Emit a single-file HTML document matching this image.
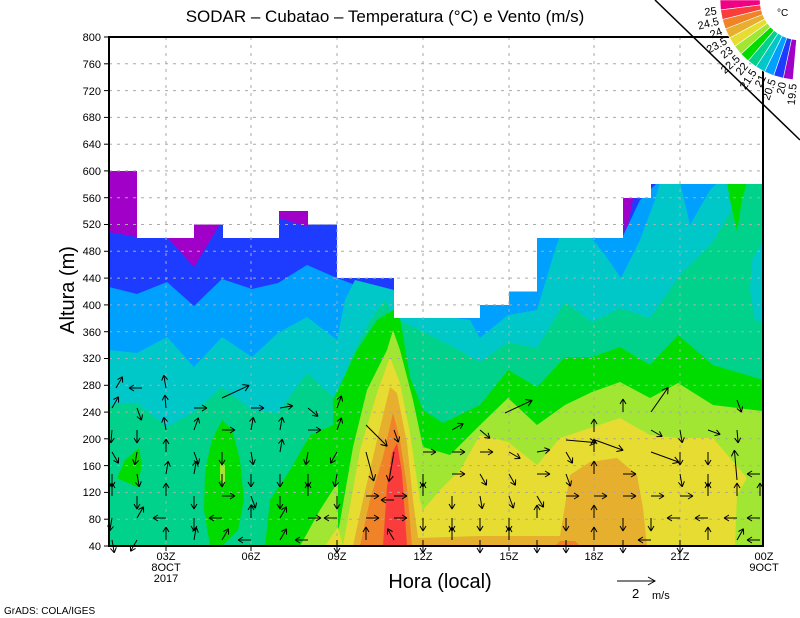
<!DOCTYPE html>
<html><head><meta charset="utf-8"><style>
html,body{margin:0;padding:0;background:#fff;}
svg{display:block;font-family:"Liberation Sans",sans-serif;}
</style></head><body>
<svg width="800" height="618" viewBox="0 0 800 618" xmlns="http://www.w3.org/2000/svg" xmlns:xlink="http://www.w3.org/1999/xlink">
<defs>
<clipPath id="m"><polygon points="109,546 109,171 137,171 137,238 194,238 194,224.5 223,224.5 223,238 279,238 279,211 308,211 308,224.5 337,224.5 337,278 394,278 394,318 480,318 480,305 509,305 509,291.5 537,291.5 537,238 623,238 623,198 651,198 651,184 763,184 763,546"/></clipPath>
<path id="a" d="M0,0 L13,0 M13,0 L8,-3 M13,0 L8,3" stroke="#000" fill="none"/>
<path id="b" d="M0,0 L30,0 M30,0 L24,-3.5 M30,0 L24,3.5" stroke="#000" fill="none"/>
</defs>
<g clip-path="url(#m)">
<rect x="109" y="160" width="660" height="390" fill="#1e3cff"/>
<polygon fill="#a000c8" points="109,160 140,160 137,237 109,232"/>
<polygon fill="#a000c8" points="160,220 230,220 220,224 194,267 167,237"/>
<polygon fill="#a000c8" points="279,205 310,205 308,227 279,218"/>
<polygon fill="#a000c8" points="623,195 634,195 625,240"/>
<polygon fill="#00a0ff" points="109,287 137,294 167,282 194,306 222,279 252,289 278,283 307,265 337,278 394,300 430,300 537,265 537,238 560,236 623,236 640,200 660,180 770,180 770,546 109,546"/>
<polygon fill="#00c8c8" points="109,350 137,353 167,337 194,367 222,337 252,357 278,333 307,317 337,340 345,300 355,280 394,290 455,318 470,320 480,338 508,315 537,310 555,250 560,236 590,236 605,255 621,278 640,240 655,200 660,182 680,182 690,225 710,190 720,180 770,180 770,546 109,546"/>
<polygon fill="#00d28c" points="109,405 137,403 167,427 194,412 222,387 252,410 278,413 307,373 337,400 350,360 370,320 385,300 394,318 420,330 450,345 480,362 508,342 537,348 565,302 592,322 620,308 650,318 680,275 713,242 740,195 747,182 770,182 770,546 109,546"/>
<polygon fill="#00c8c8" points="763,240 752,260 750,290 755,320 763,322"/>
<polygon fill="#00dc00" points="727,182 747,182 742,200 737,232 730,200"/>
<polygon fill="#00dc00" points="117,478 125,460 139,448 142,465 137,487"/>
<polygon fill="#00dc00" points="222,420 232,430 240,460 244,500 238,530 222,546 210,546 204,510 205,470 212,440"/>
<polygon fill="#00dc00" points="265,546 270,500 290,470 310,435 333,425 333,400 357,350 377,320 393,310 400,318 410,377 423,410 443,423 480,405 508,370 537,387 565,357 592,357 620,347 650,365 678,335 713,365 770,382 770,546"/>
<polygon fill="#a0e632" points="220,462 225,465 225,485 220,480"/>
<polygon fill="#a0e632" points="300,546 320,510 338,482 338,533 353,447 367,390 387,350 393,330 400,350 413,400 423,447 450,455 480,425 508,398 537,425 565,405 592,392 620,382 650,398 678,383 713,405 770,412 770,546"/>
<polygon fill="#e6dc32" points="325,546 338,527 343,546 360,450 377,393 390,357 400,383 410,433 420,500 423,510 440,490 460,470 480,435 508,442 537,465 560,438 620,418 650,435 678,438 713,438 747,478 737,495 735,546"/>
<polygon fill="#e6af2d" points="353,546 363,500 377,440 390,387 397,393 407,443 413,500 418,538 480,536 560,536 570,475 590,462 617,458 637,475 643,508 647,546"/>
<polygon fill="#f08228" points="360,546 370,500 383,457 393,413 400,440 407,487 412,546"/>
<polygon fill="#f08228" points="555,546 560,541 575,541 580,546"/>
<polygon fill="#fa3c3c" points="383,546 387,487 392,453 397,443 402,473 407,546"/>
</g>
<g stroke="#aaa" stroke-width="1" stroke-dasharray="3,5" fill="none">
<line x1="109" x2="763" y1="519.2" y2="519.2"/><line x1="109" x2="763" y1="492.4" y2="492.4"/><line x1="109" x2="763" y1="465.6" y2="465.6"/><line x1="109" x2="763" y1="438.8" y2="438.8"/><line x1="109" x2="763" y1="412.1" y2="412.1"/><line x1="109" x2="763" y1="385.3" y2="385.3"/><line x1="109" x2="763" y1="358.5" y2="358.5"/><line x1="109" x2="763" y1="331.7" y2="331.7"/><line x1="109" x2="763" y1="304.9" y2="304.9"/><line x1="109" x2="763" y1="278.1" y2="278.1"/><line x1="109" x2="763" y1="251.3" y2="251.3"/><line x1="109" x2="763" y1="224.5" y2="224.5"/><line x1="109" x2="763" y1="197.7" y2="197.7"/><line x1="109" x2="763" y1="170.9" y2="170.9"/><line x1="109" x2="763" y1="144.2" y2="144.2"/><line x1="109" x2="763" y1="117.4" y2="117.4"/><line x1="109" x2="763" y1="90.6" y2="90.6"/><line x1="109" x2="763" y1="63.8" y2="63.8"/>
<line x1="166" x2="166" y1="37" y2="546"/><line x1="251" x2="251" y1="37" y2="546"/><line x1="337" x2="337" y1="37" y2="546"/><line x1="423" x2="423" y1="37" y2="546"/><line x1="509" x2="509" y1="37" y2="546"/><line x1="594" x2="594" y1="37" y2="546"/><line x1="680" x2="680" y1="37" y2="546"/>
</g>
<g>
<use xlink:href="#a" transform="translate(112 540) rotate(80)"/><use xlink:href="#a" transform="translate(112 518) rotate(100)"/><use xlink:href="#a" transform="translate(112 496) rotate(-90)"/><use xlink:href="#a" transform="translate(112 474) rotate(90)"/><use xlink:href="#a" transform="translate(112 452) rotate(60)"/><use xlink:href="#a" transform="translate(112 430) rotate(95)"/><use xlink:href="#a" transform="translate(112 408) rotate(-60)"/><use xlink:href="#a" transform="translate(116 388) rotate(-60)"/>
<use xlink:href="#a" transform="translate(137 540) rotate(120)"/><use xlink:href="#a" transform="translate(137 518) rotate(-60)"/><use xlink:href="#a" transform="translate(137 496) rotate(90)"/><use xlink:href="#a" transform="translate(137 474) rotate(80)"/><use xlink:href="#a" transform="translate(137 452) rotate(100)"/><use xlink:href="#a" transform="translate(137 430) rotate(90)"/><use xlink:href="#a" transform="translate(137 408) rotate(70)"/><use xlink:href="#a" transform="translate(142 388) rotate(180)"/>
<use xlink:href="#a" transform="translate(166 540) rotate(-90)"/><use xlink:href="#a" transform="translate(166 518) rotate(180)"/><use xlink:href="#a" transform="translate(166 496) rotate(-90)"/><use xlink:href="#a" transform="translate(166 474) rotate(-80)"/><use xlink:href="#a" transform="translate(166 452) rotate(-90)"/><use xlink:href="#a" transform="translate(166 430) rotate(-100)"/><use xlink:href="#a" transform="translate(166 408) rotate(-95)"/><use xlink:href="#a" transform="translate(166 388) rotate(-100)"/>
<use xlink:href="#a" transform="translate(194 540) rotate(-80)"/><use xlink:href="#a" transform="translate(194 518) rotate(90)"/><use xlink:href="#a" transform="translate(194 496) rotate(90)"/><use xlink:href="#a" transform="translate(194 474) rotate(-80)"/><use xlink:href="#a" transform="translate(194 452) rotate(70)"/><use xlink:href="#a" transform="translate(194 430) rotate(-70)"/><use xlink:href="#a" transform="translate(194 408) rotate(0)"/>
<use xlink:href="#a" transform="translate(222 540) rotate(-60)"/><use xlink:href="#a" transform="translate(222 518) rotate(180)"/><use xlink:href="#a" transform="translate(222 496) rotate(0)"/><use xlink:href="#a" transform="translate(222 474) rotate(90)"/><use xlink:href="#a" transform="translate(222 452) rotate(90)"/><use xlink:href="#a" transform="translate(222 430) rotate(0)"/><use xlink:href="#b" transform="translate(222 398) rotate(-25)"/>
<use xlink:href="#a" transform="translate(251 540) rotate(180)"/><use xlink:href="#a" transform="translate(251 518) rotate(-90)"/><use xlink:href="#a" transform="translate(251 496) rotate(70)"/><use xlink:href="#a" transform="translate(251 474) rotate(90)"/><use xlink:href="#a" transform="translate(251 452) rotate(80)"/><use xlink:href="#a" transform="translate(251 430) rotate(-80)"/><use xlink:href="#a" transform="translate(251 408) rotate(0)"/>
<use xlink:href="#a" transform="translate(280 540) rotate(-60)"/><use xlink:href="#a" transform="translate(280 518) rotate(-60)"/><use xlink:href="#a" transform="translate(280 496) rotate(90)"/><use xlink:href="#a" transform="translate(280 474) rotate(90)"/><use xlink:href="#a" transform="translate(280 452) rotate(-80)"/><use xlink:href="#a" transform="translate(280 430) rotate(-80)"/><use xlink:href="#a" transform="translate(280 408) rotate(-10)"/>
<use xlink:href="#a" transform="translate(308 540) rotate(180)"/><use xlink:href="#a" transform="translate(308 518) rotate(0)"/><use xlink:href="#a" transform="translate(308 496) rotate(-90)"/><use xlink:href="#a" transform="translate(308 474) rotate(90)"/><use xlink:href="#a" transform="translate(308 452) rotate(100)"/><use xlink:href="#a" transform="translate(308 430) rotate(0)"/><use xlink:href="#a" transform="translate(308 408) rotate(40)"/>
<use xlink:href="#a" transform="translate(337 540) rotate(90)"/><use xlink:href="#a" transform="translate(337 518) rotate(180)"/><use xlink:href="#a" transform="translate(337 496) rotate(90)"/><use xlink:href="#a" transform="translate(337 474) rotate(100)"/><use xlink:href="#a" transform="translate(337 452) rotate(120)"/><use xlink:href="#a" transform="translate(337 430) rotate(-70)"/><use xlink:href="#a" transform="translate(337 408) rotate(-70)"/>
<use xlink:href="#a" transform="translate(366 540) rotate(-90)"/><use xlink:href="#a" transform="translate(366 518) rotate(0)"/><use xlink:href="#a" transform="translate(366 496) rotate(0)"/><use xlink:href="#b" transform="translate(366 452) rotate(75)"/><use xlink:href="#b" transform="translate(366 425) rotate(45)"/>
<use xlink:href="#a" transform="translate(394 540) rotate(-120)"/><use xlink:href="#a" transform="translate(394 518) rotate(0)"/><use xlink:href="#a" transform="translate(394 496) rotate(0)"/><use xlink:href="#b" transform="translate(394 452) rotate(100)"/><use xlink:href="#a" transform="translate(394 430) rotate(70)"/><use xlink:href="#a" transform="translate(394 500) rotate(180)"/>
<use xlink:href="#a" transform="translate(423 540) rotate(90)"/><use xlink:href="#a" transform="translate(423 518) rotate(90)"/><use xlink:href="#a" transform="translate(423 496) rotate(-90)"/><use xlink:href="#a" transform="translate(423 474) rotate(90)"/><use xlink:href="#a" transform="translate(423 452) rotate(0)"/>
<use xlink:href="#a" transform="translate(452 540) rotate(-90)"/><use xlink:href="#a" transform="translate(452 518) rotate(90)"/><use xlink:href="#a" transform="translate(452 496) rotate(90)"/><use xlink:href="#a" transform="translate(452 474) rotate(0)"/><use xlink:href="#a" transform="translate(452 452) rotate(0)"/><use xlink:href="#a" transform="translate(452 430) rotate(-30)"/>
<use xlink:href="#a" transform="translate(480 540) rotate(90)"/><use xlink:href="#a" transform="translate(480 518) rotate(90)"/><use xlink:href="#a" transform="translate(480 496) rotate(80)"/><use xlink:href="#a" transform="translate(480 474) rotate(60)"/><use xlink:href="#a" transform="translate(480 452) rotate(0)"/><use xlink:href="#a" transform="translate(480 430) rotate(40)"/>
<use xlink:href="#a" transform="translate(509 540) rotate(-90)"/><use xlink:href="#a" transform="translate(509 518) rotate(90)"/><use xlink:href="#a" transform="translate(509 496) rotate(70)"/><use xlink:href="#a" transform="translate(509 474) rotate(60)"/><use xlink:href="#a" transform="translate(509 452) rotate(30)"/><use xlink:href="#b" transform="translate(505 413) rotate(-25)"/>
<use xlink:href="#a" transform="translate(537 540) rotate(90)"/><use xlink:href="#a" transform="translate(537 518) rotate(-90)"/><use xlink:href="#a" transform="translate(537 496) rotate(60)"/><use xlink:href="#a" transform="translate(537 474) rotate(0)"/><use xlink:href="#a" transform="translate(537 452) rotate(-10)"/>
<use xlink:href="#a" transform="translate(566 540) rotate(90)"/><use xlink:href="#a" transform="translate(566 518) rotate(90)"/><use xlink:href="#a" transform="translate(566 496) rotate(0)"/><use xlink:href="#a" transform="translate(566 474) rotate(70)"/><use xlink:href="#a" transform="translate(566 452) rotate(60)"/><use xlink:href="#b" transform="translate(566 440) rotate(5)"/>
<use xlink:href="#a" transform="translate(594 540) rotate(-90)"/><use xlink:href="#a" transform="translate(594 518) rotate(-90)"/><use xlink:href="#a" transform="translate(594 496) rotate(0)"/><use xlink:href="#a" transform="translate(594 474) rotate(-90)"/><use xlink:href="#a" transform="translate(594 452) rotate(-90)"/><use xlink:href="#a" transform="translate(594 432) rotate(-90)"/>
<use xlink:href="#a" transform="translate(623 540) rotate(90)"/><use xlink:href="#a" transform="translate(623 518) rotate(90)"/><use xlink:href="#a" transform="translate(623 496) rotate(0)"/><use xlink:href="#a" transform="translate(623 474) rotate(0)"/><use xlink:href="#b" transform="translate(595 440) rotate(20)"/><use xlink:href="#a" transform="translate(623 412) rotate(-90)"/>
<use xlink:href="#a" transform="translate(651 540) rotate(180)"/><use xlink:href="#a" transform="translate(651 518) rotate(90)"/><use xlink:href="#a" transform="translate(651 496) rotate(0)"/><use xlink:href="#b" transform="translate(651 452) rotate(20)"/><use xlink:href="#a" transform="translate(651 430) rotate(30)"/><use xlink:href="#b" transform="translate(651 412) rotate(-55)"/>
<use xlink:href="#a" transform="translate(680 540) rotate(90)"/><use xlink:href="#a" transform="translate(680 518) rotate(180)"/><use xlink:href="#a" transform="translate(680 496) rotate(0)"/><use xlink:href="#a" transform="translate(680 474) rotate(80)"/><use xlink:href="#a" transform="translate(680 452) rotate(90)"/><use xlink:href="#a" transform="translate(680 430) rotate(80)"/>
<use xlink:href="#a" transform="translate(708 540) rotate(-90)"/><use xlink:href="#a" transform="translate(708 518) rotate(180)"/><use xlink:href="#a" transform="translate(708 496) rotate(-90)"/><use xlink:href="#a" transform="translate(708 474) rotate(90)"/><use xlink:href="#a" transform="translate(708 452) rotate(90)"/><use xlink:href="#a" transform="translate(708 430) rotate(20)"/>
<use xlink:href="#a" transform="translate(737 540) rotate(-60)"/><use xlink:href="#a" transform="translate(737 518) rotate(180)"/><use xlink:href="#a" transform="translate(737 496) rotate(-90)"/><use xlink:href="#b" transform="translate(737 480) rotate(-95)"/><use xlink:href="#a" transform="translate(737 430) rotate(85)"/><use xlink:href="#a" transform="translate(737 400) rotate(70)"/>
<use xlink:href="#a" transform="translate(760 540) rotate(180)"/><use xlink:href="#a" transform="translate(760 518) rotate(180)"/><use xlink:href="#a" transform="translate(760 496) rotate(-90)"/><use xlink:href="#a" transform="translate(760 474) rotate(180)"/>
</g>
<rect x="109" y="37" width="654" height="509" fill="none" stroke="#000" stroke-width="2"/>
<g stroke="#000">
<line x1="104" x2="109" y1="546" y2="546"/><line x1="104" x2="109" y1="519.2" y2="519.2"/><line x1="104" x2="109" y1="492.4" y2="492.4"/><line x1="104" x2="109" y1="465.6" y2="465.6"/><line x1="104" x2="109" y1="438.8" y2="438.8"/><line x1="104" x2="109" y1="412.1" y2="412.1"/><line x1="104" x2="109" y1="385.3" y2="385.3"/><line x1="104" x2="109" y1="358.5" y2="358.5"/><line x1="104" x2="109" y1="331.7" y2="331.7"/><line x1="104" x2="109" y1="304.9" y2="304.9"/><line x1="104" x2="109" y1="278.1" y2="278.1"/><line x1="104" x2="109" y1="251.3" y2="251.3"/><line x1="104" x2="109" y1="224.5" y2="224.5"/><line x1="104" x2="109" y1="197.7" y2="197.7"/><line x1="104" x2="109" y1="170.9" y2="170.9"/><line x1="104" x2="109" y1="144.2" y2="144.2"/><line x1="104" x2="109" y1="117.4" y2="117.4"/><line x1="104" x2="109" y1="90.6" y2="90.6"/><line x1="104" x2="109" y1="63.8" y2="63.8"/><line x1="104" x2="109" y1="37" y2="37"/>
<line x1="166" x2="166" y1="546" y2="551"/><line x1="251" x2="251" y1="546" y2="551"/><line x1="337" x2="337" y1="546" y2="551"/><line x1="423" x2="423" y1="546" y2="551"/><line x1="509" x2="509" y1="546" y2="551"/><line x1="594" x2="594" y1="546" y2="551"/><line x1="680" x2="680" y1="546" y2="551"/>
</g>
<g font-size="11" text-anchor="end">
<text x="101" y="550">40</text><text x="101" y="523">80</text><text x="101" y="496">120</text><text x="101" y="470">160</text><text x="101" y="443">200</text><text x="101" y="416">240</text><text x="101" y="389">280</text><text x="101" y="362">320</text><text x="101" y="336">360</text><text x="101" y="309">400</text><text x="101" y="282">440</text><text x="101" y="255">480</text><text x="101" y="228">520</text><text x="101" y="202">560</text><text x="101" y="175">600</text><text x="101" y="148">640</text><text x="101" y="121">680</text><text x="101" y="95">720</text><text x="101" y="68">760</text><text x="101" y="41">800</text>
</g>
<g font-size="11" text-anchor="middle">
<text x="166" y="560">03Z</text><text x="166" y="571">8OCT</text><text x="166" y="582">2017</text>
<text x="251" y="560">06Z</text><text x="337" y="560">09Z</text><text x="423" y="560">12Z</text>
<text x="509" y="560">15Z</text><text x="594" y="560">18Z</text><text x="680" y="560">21Z</text>
<text x="764" y="560">00Z</text><text x="764" y="571">9OCT</text>
</g>
<text x="385" y="22" font-size="17" text-anchor="middle">SODAR – Cubatao – Temperatura (°C) e Vento (m/s)</text>
<text x="440" y="588" font-size="20" text-anchor="middle">Hora (local)</text>
<text transform="translate(74,290) rotate(-90)" font-size="20" text-anchor="middle">Altura (m)</text>
<text x="4" y="614" font-size="10">GrADS: COLA/IGES</text>
<g stroke="#000" fill="none"><line x1="617" y1="581" x2="655" y2="581"/><polyline points="648,577 655,581 648,585"/></g>
<text x="632" y="598" font-size="13">2</text><text x="652" y="599" font-size="11">m/s</text>
<line x1="655" y1="0" x2="800" y2="140" stroke="#000" stroke-width="1.5"/>
<g stroke="#fff" stroke-width="0.6">
<polygon fill="#f00082" points="760,0 720,0 720.6,9.9 760.3,4.9"/>
<polygon fill="#fa3c3c" points="760.3,4.9 720.6,9.9 722.4,19.6 761.2,9.8"/>
<polygon fill="#f08228" points="761.2,9.8 722.4,19.6 725.4,29 762.7,14.5"/>
<polygon fill="#e6af2d" points="762.7,14.5 725.4,29 729.6,38 764.8,19"/>
<polygon fill="#e6dc32" points="764.8,19 729.6,38 734.8,46.4 767.4,23.2"/>
<polygon fill="#a0e632" points="767.4,23.2 734.8,46.4 741,54 770.5,27"/>
<polygon fill="#00dc00" points="770.5,27 741,54 748.1,60.9 774.1,30.5"/>
<polygon fill="#00d28c" points="774.1,30.5 748.1,60.9 756,66.8 778,33.4"/>
<polygon fill="#00c8c8" points="778,33.4 756,66.8 764.6,71.8 782.3,35.9"/>
<polygon fill="#00a0ff" points="782.3,35.9 764.6,71.8 773.7,75.6 786.9,37.8"/>
<polygon fill="#1e3cff" points="786.9,37.8 773.7,75.6 783.3,78.2 791.6,39.1"/>
<polygon fill="#a000c8" points="791.6,39.1 783.3,78.2 793,79.7 796.5,39.8"/>
</g>
<g font-size="11" text-anchor="end">
<text x="716.6" y="10.4" dy="4" transform="rotate(-7 716.6 10.4)">25</text>
<text x="718.6" y="20.6" dy="4" transform="rotate(-14 718.6 20.6)">24.5</text>
<text x="721.7" y="30.4" dy="4" transform="rotate(-21 721.7 30.4)">24</text>
<text x="726.1" y="39.9" dy="4" transform="rotate(-28 726.1 39.9)">23.5</text>
<text x="731.5" y="48.7" dy="4" transform="rotate(-35 731.5 48.7)">23</text>
<text x="738.1" y="56.8" dy="4" transform="rotate(-42.5 738.1 56.8)">22.5</text>
<text x="745.5" y="63.9" dy="4" transform="rotate(-49.6 745.5 63.9)">22</text>
<text x="753.8" y="70.2" dy="4" transform="rotate(-56.7 753.8 70.2)">21.5</text>
<text x="762.8" y="75.3" dy="4" transform="rotate(-63.75 762.8 75.3)">21</text>
<text x="772.4" y="79.3" dy="4" transform="rotate(-70.8 772.4 79.3)">20.5</text>
<text x="782.4" y="82.1" dy="4" transform="rotate(-77.9 782.4 82.1)">20</text>
<text x="792.7" y="83.7" dy="4" transform="rotate(-85 792.7 83.7)">19.5</text>
</g>
<text x="777" y="16" font-size="10">°C</text>
</svg>
</body></html>
